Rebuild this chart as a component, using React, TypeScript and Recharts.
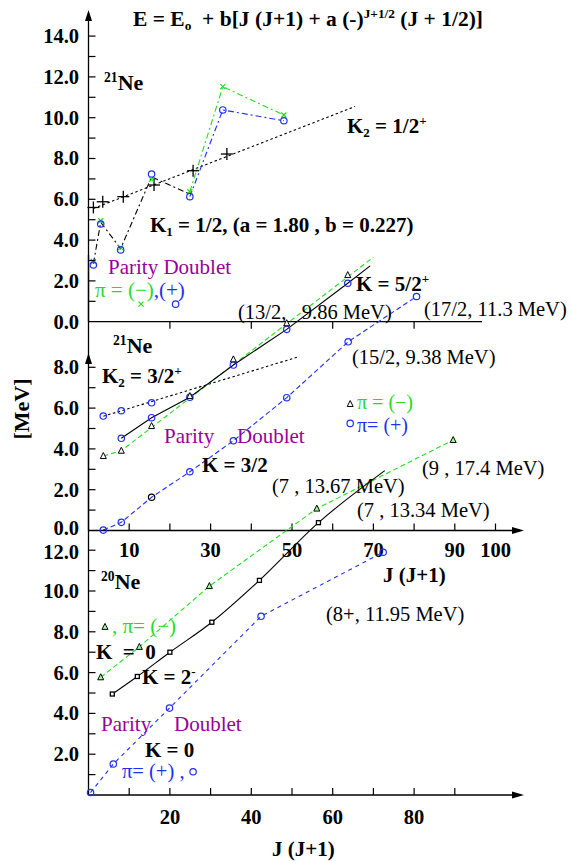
import React from 'react';
import { ComposedChart, Line, Scatter, XAxis, YAxis } from 'recharts';

const SERIF = '"Liberation Serif", "Times New Roman", serif';
const GREEN = '#22dd22';
const BLUE = '#1f2ff0';
const PURPLE = '#990099';

// x = J(J+1), e = energy [MeV]

// top panel: 21Ne, K1 = 1/2 (parity doublet) and K2 = 1/2+
const k1Jx = [1.2, 3.0, 7.9, 15.5, 24.9, 33.0, 48.0];
const k1Minus = [2.95, 4.95, 3.63, 6.98, 6.37, 11.52, 10.13];
const k1Plus = [2.78, 4.79, 3.52, 7.24, 6.13, 10.38, 9.85];
const k1MeanJx = [1.2, 3.0, 7.9, 15.5, 24.9];
const k1Mean = [2.85, 4.87, 3.58, 7.1, 6.25];
const k2Jx = [1.2, 3.5, 8.55, 16.1, 25.7, 34.0];
const k2E = [5.6, 5.88, 6.13, 6.7, 7.4, 8.22];
const k2FitJx = [1.2, 65.5];
const k2FitE = [5.55, 10.55];
const topKeyJx = [12.9, 21.4];
const topKeyE = [0.86, 0.86];

// middle panel: 21Ne, K2 = 3/2+, K = 3/2 doublet, K = 5/2+
const m2Jx = [3.64, 8.06, 15.5];
const m2E = [5.61, 5.87, 6.26];
const m2FitJx = [3.64, 51.2];
const m2FitE = [5.6, 8.49];
const mUpJx = [8.06, 15.5, 24.9, 35.6, 48.7, 63.7, 69.2];
const mUpE = [4.52, 5.53, 6.53, 8.11, 9.86, 12.12, 12.97];
const mMinusJx = [3.64, 8.06, 15.5, 24.9, 35.6, 48.7, 63.7];
const mMinusE = [3.65, 3.91, 5.12, 6.59, 8.39, 10.16, 12.52];
const mMinusFitJx = [3.64, 8.06, 70];
const mMinusFitE = [3.65, 3.91, 13.4];
const mLowJx = [3.64, 8.06, 15.5, 24.9, 35.6, 48.7, 63.8, 80.6];
const mLowE = [0.02, 0.4, 1.63, 2.88, 4.4, 6.51, 9.25, 11.47];
const midKeyJx = [64.3];
const midKeyMinusE = [6.2];
const midKeyPlusE = [5.25];

// bottom panel: 20Ne
const nMinusJx = [3.0, 12.5, 29.7, 56.1, 89.6];
const nMinusE = [5.77, 7.26, 10.24, 14.04, 17.4];
const nK2Jx = [5.85, 12, 20, 30.3, 42, 56.5, 72.8];
const nK2E = [4.95, 5.81, 7.0, 8.47, 10.52, 13.35, 15.9];
const nGsJx = [0.5, 6.1, 19.9, 42.4, 72.4];
const nGsE = [0.12, 1.52, 4.26, 8.76, 11.9];
const botKeyMinusJx = [4.05];
const botKeyMinusE = [8.24];
const botKeyPlusJx = [25.7];
const botKeyPlusE = [1.14];

// ticks
const topYTicks = [0, 1, 2, 3, 4, 5, 6, 7, 8, 9, 10, 11, 12, 13, 14];
const topYLabels = [0, 2, 4, 6, 8, 10, 12, 14];
const topXTicks = [20, 40, 60, 80];
const midYTicks = [0, 1, 2, 3, 4, 5, 6, 7, 8];
const midYLabels = [0, 2, 4, 6, 8];
const midXTicks = [10, 20, 30, 40, 50, 60, 70, 80, 90, 100];
const midXLabels = [10, 30, 50, 70, 90, 100];
const botYTicks = [1, 2, 3, 4, 5, 6, 7, 8, 9, 10, 11, 12];
const botYLabels = [2, 4, 6, 8, 10, 12];
const botXTicks = [10, 20, 30, 40, 50, 60, 70, 80, 90];
const botXLabels = [20, 40, 60, 80];

const pts = (xs: number[], es: number[]) => xs.map((x, i) => ({ x, e: es[i] }));

// layout
const W = 571;
const H = 861;
const AXIS_X = 88.5;
const PX_PER_J = 4.07;
const PX_PER_MEV = 20.4;
const Y_AXIS_W = 40;
const X_AXIS_H = 20;

type Panel = { zeroY: number; topY: number; rightX: number };
const TOP: Panel = { zeroY: 321.7, topY: 14, rightX: 482 };
const MID: Panel = { zeroY: 530.5, topY: 255, rightX: 520 };
const BOT: Panel = { zeroY: 795, topY: 428, rightX: 520 };

// marker shapes
const ring = (color: string) => (p: any) => (
  <circle cx={p.cx} cy={p.cy} r={3.2} fill="none" stroke={color} strokeWidth={1.2} />
);
const cross = (p: any) => (
  <g stroke={GREEN} strokeWidth={1.2}>
    <line x1={p.cx - 2.5} y1={p.cy - 2.5} x2={p.cx + 2.5} y2={p.cy + 2.5} />
    <line x1={p.cx - 2.5} y1={p.cy + 2.5} x2={p.cx + 2.5} y2={p.cy - 2.5} />
  </g>
);
const plus = (p: any) => (
  <g stroke="#000" strokeWidth={1.3}>
    <line x1={p.cx - 6} y1={p.cy} x2={p.cx + 6} y2={p.cy} />
    <line x1={p.cx} y1={p.cy - 6} x2={p.cx} y2={p.cy + 6} />
  </g>
);
const tri = (fill: string) => (p: any) => (
  <polygon
    points={`${p.cx},${p.cy - 3.5} ${p.cx - 3},${p.cy + 2.5} ${p.cx + 3},${p.cy + 2.5}`}
    fill={fill}
    stroke="#000"
    strokeWidth={1}
  />
);
const square = (p: any) => (
  <rect x={p.cx - 2} y={p.cy - 2} width={4} height={4} fill="#fff" stroke="#000" strokeWidth={1.3} />
);

function XTick({ x, y, payload, labels, dir, dy }: any) {
  const v = payload.value;
  return (
    <g>
      <line x1={x} y1={y} x2={x} y2={y + dir * 7} stroke="#000" strokeWidth={1.2} />
      {labels.includes(v) && (
        <text x={x} y={y + dy} dy="0.34em" textAnchor="middle" fontFamily={SERIF} fontWeight={700} fontSize={20.5} fill="#000">
          {v}
        </text>
      )}
    </g>
  );
}

// shift: nudges one label so neighbouring panels' labels don't collide
function YTick({ x, y, payload, labels, shift }: any) {
  const v = payload.value;
  const off = shift && shift[0] === v ? shift[1] : 0;
  return (
    <g>
      {v > 0 && <line x1={x} y1={y} x2={x + 7} y2={y} stroke="#000" strokeWidth={1.2} />}
      {labels.includes(v) && (
        <text x={x - 9.5} y={y + off} dy="0.34em" textAnchor="end" fontFamily={SERIF} fontWeight={700} fontSize={20.5} fill="#000">
          {v.toFixed(1)}
        </text>
      )}
    </g>
  );
}

function PanelChart({ panel, yTicks, yLabels, yShift, xTicks, xLabels, xDir, xDy, children }: any) {
  const margin = {
    left: AXIS_X - Y_AXIS_W,
    top: panel.topY,
    right: W - panel.rightX,
    bottom: H - panel.zeroY - X_AXIS_H,
  };
  const xMax = (panel.rightX - AXIS_X) / PX_PER_J;
  const yMax = (panel.zeroY - panel.topY) / PX_PER_MEV;
  return (
    <div style={{ position: 'absolute', left: 0, top: 0 }}>
      <ComposedChart width={W} height={H} margin={margin}>
        <XAxis
          type="number"
          dataKey="x"
          domain={[0, xMax]}
          ticks={xTicks}
          interval={0}
          height={X_AXIS_H}
          tickSize={0}
          tickMargin={0}
          tickLine={false}
          axisLine={{ stroke: '#000', strokeWidth: 1.3 }}
          tick={(p: any) => <XTick {...p} labels={xLabels} dir={xDir} dy={xDy} />}
        />
        <YAxis
          type="number"
          dataKey="e"
          domain={[0, yMax]}
          ticks={yTicks}
          interval={0}
          width={Y_AXIS_W}
          tickSize={0}
          tickMargin={0}
          tickLine={false}
          axisLine={{ stroke: '#000', strokeWidth: 1.3 }}
          tick={(p: any) => <YTick {...p} labels={yLabels} shift={yShift} />}
        />
        {children}
      </ComposedChart>
    </div>
  );
}

const line = (key: string, xs: number[], es: number[], stroke: string, dash?: string, type: any = 'linear') => (
  <Line
    key={key}
    data={pts(xs, es)}
    dataKey="e"
    type={type}
    stroke={stroke}
    strokeWidth={1.1}
    strokeDasharray={dash}
    dot={false}
    activeDot={false}
    isAnimationActive={false}
  />
);
const marks = (key: string, xs: number[], es: number[], shape: any) => (
  <Scatter key={key} data={pts(xs, es)} dataKey="e" shape={shape} isAnimationActive={false} />
);

function Note({ x, y, size = 21, bold = false, color = '#000', children }: any) {
  return (
    <div
      style={{
        position: 'absolute',
        left: x,
        top: y,
        transform: 'translateY(-50%)',
        fontFamily: SERIF,
        fontSize: size,
        fontWeight: bold ? 700 : 400,
        color,
        whiteSpace: 'pre',
        lineHeight: 1,
      }}
    >
      {children}
    </div>
  );
}
const Sup = ({ children }: any) => (
  <span style={{ fontSize: '0.62em', position: 'relative', top: '-0.6em' }}>{children}</span>
);
const Sub = ({ children }: any) => (
  <span style={{ fontSize: '0.62em', position: 'relative', top: '0.3em' }}>{children}</span>
);

export default function App() {
  return (
    <div style={{ position: 'absolute', left: 0, top: 0, width: W, height: H, background: '#fff', overflow: 'hidden' }}>
      <PanelChart panel={TOP} yTicks={topYTicks} yLabels={topYLabels} xTicks={topXTicks} xLabels={[]} xDir={1} xDy={0}>
        {line('k2fit', k2FitJx, k2FitE, '#000', '2.5 2.5')}
        {line('k1mean', k1MeanJx, k1Mean, '#000', '6 3 2 3')}
        {line('k1minus', k1Jx.slice(4), k1Minus.slice(4), GREEN, '6 3 2 3')}
        {line('k1plus', k1Jx.slice(4), k1Plus.slice(4), BLUE, '6 3 2 3')}
        {marks('k2', k2Jx, k2E, plus)}
        {marks('k1m', k1Jx, k1Minus, cross)}
        {marks('k1p', k1Jx, k1Plus, ring(BLUE))}
        {marks('keym', topKeyJx.slice(0, 1), topKeyE.slice(0, 1), cross)}
        {marks('keyp', topKeyJx.slice(1), topKeyE.slice(1), ring(BLUE))}
      </PanelChart>

      <PanelChart panel={MID} yTicks={midYTicks} yLabels={midYLabels} yShift={[0, -2.5]} xTicks={midXTicks} xLabels={midXLabels} xDir={-1} xDy={19.5}>
        {line('m2fit', m2FitJx, m2FitE, '#000', '2.5 2.5')}
        {line('mminus', mMinusFitJx, mMinusFitE, GREEN, '5 3')}
        {line('mup', mUpJx, mUpE, '#000')}
        {line('mlow', mLowJx, mLowE, BLUE, '5 3')}
        {marks('m2', m2Jx, m2E, ring(BLUE))}
        {marks('mupm', mUpJx.slice(0, 6), mUpE.slice(0, 6), ring(BLUE))}
        {marks('mminusm', mMinusJx, mMinusE, tri('#fff'))}
        {marks('mlowb', mLowJx.filter((_, i) => i !== 2), mLowE.filter((_, i) => i !== 2), ring(BLUE))}
        {marks('mlowk', mLowJx.slice(2, 3), mLowE.slice(2, 3), ring('#000'))}
        {marks('mkeym', midKeyJx, midKeyMinusE, tri('#fff'))}
        {marks('mkeyp', midKeyJx, midKeyPlusE, ring(BLUE))}
      </PanelChart>

      <PanelChart panel={BOT} yTicks={botYTicks} yLabels={botYLabels} yShift={[12, 1.5]} xTicks={botXTicks} xLabels={botXLabels} xDir={-1} xDy={22}>
        {line('nminus', nMinusJx, nMinusE, GREEN, '5 3')}
        {line('nk2', nK2Jx, nK2E, '#000', undefined, 'monotone')}
        {line('ngs', nGsJx, nGsE, BLUE, '4 4')}
        {marks('nminusm', nMinusJx, nMinusE, tri('#9f9'))}
        {marks('nk2m', nK2Jx.slice(0, 6), nK2E.slice(0, 6), square)}
        {marks('ngsm', nGsJx, nGsE, ring(BLUE))}
        {marks('nkeym', botKeyMinusJx, botKeyMinusE, tri('#9f9'))}
        {marks('nkeyp', botKeyPlusJx, botKeyPlusE, ring(BLUE))}
      </PanelChart>

      <svg width={W} height={H} style={{ position: 'absolute', left: 0, top: 0, pointerEvents: 'none' }}>
        <polygon points={`${AXIS_X},10 ${AXIS_X - 3.5},21 ${AXIS_X + 3.5},21`} fill="#000" />
        <polygon points={`${AXIS_X},353 ${AXIS_X - 3.5},364 ${AXIS_X + 3.5},364`} fill="#000" />
        <polygon points={`524,${MID.zeroY} 512,${MID.zeroY - 3.5} 512,${MID.zeroY + 3.5}`} fill="#000" />
        <polygon points={`524,${BOT.zeroY} 512,${BOT.zeroY - 3.5} 512,${BOT.zeroY + 3.5}`} fill="#000" />
      </svg>

      {/* top panel text */}
      <Note x={133} y={20} bold size={21.5}>
        E = E<Sub>o</Sub>  + b[J (J+1) + a (-)<Sup>J+1/2</Sup> (J + 1/2)]
      </Note>
      <Note x={104} y={83} bold size={22}><Sup>21</Sup>Ne</Note>
      <Note x={347} y={126} bold>K<Sub>2</Sub> = 1/2<Sup>+</Sup></Note>
      <Note x={150} y={225} bold>K<Sub>1</Sub> = 1/2, (a = 1.80 , b = 0.227)</Note>
      <Note x={108} y={267} size={21} color={PURPLE}>Parity Doublet</Note>
      <Note x={95} y={290} size={21}>
        <span style={{ color: GREEN }}>π = (−)</span><span style={{ color: BLUE }}>,(+)</span>
      </Note>
      <Note x={356} y={284} bold>K = 5/2<Sup>+</Sup></Note>
      <Note x={238} y={312} size={20.5}>(13/2,   9.86 MeV)</Note>
      <Note x={424} y={309} size={20.5}>(17/2, 11.3 MeV)</Note>

      {/* middle panel text */}
      <Note x={113} y={346} bold size={22}><Sup>21</Sup>Ne</Note>
      <Note x={102} y={376} bold>K<Sub>2</Sub> = 3/2<Sup>+</Sup></Note>
      <Note x={164} y={436} size={21} color={PURPLE}>Parity</Note>
      <Note x={237} y={436} size={21} color={PURPLE}>Doublet</Note>
      <Note x={202} y={465} bold>K = 3/2</Note>
      <Note x={352} y={357} size={20.5}>(15/2, 9.38 MeV)</Note>
      <Note x={357} y={402} size={20} color={GREEN}>π = (−)</Note>
      <Note x={357} y={425} size={20} color={BLUE}>π= (+)</Note>
      <Note x={422} y={468} size={20.5}>(9 , 17.4 MeV)</Note>
      <Note x={272} y={486} size={20.5}>(7 , 13.67 MeV)</Note>
      <Note x={357} y={510} size={20.5}>(7 , 13.34 MeV)</Note>
      <Note x={383} y={575} bold>J (J+1)</Note>

      {/* bottom panel text */}
      <Note x={101} y={582} bold size={22}><Sup>20</Sup>Ne</Note>
      <Note x={112} y={626} size={21} color={GREEN}>, π= (−)</Note>
      <Note x={96} y={652} bold>K  =  0</Note>
      <Note x={142} y={677} bold>K = 2<Sup>-</Sup></Note>
      <Note x={326} y={614} size={20.5}>(8+, 11.95 MeV)</Note>
      <Note x={101} y={724} size={21} color={PURPLE}>Parity</Note>
      <Note x={174} y={724} size={21} color={PURPLE}>Doublet</Note>
      <Note x={145} y={750} bold>K = 0</Note>
      <Note x={122} y={771} size={20.5} color={BLUE}>π= (+) ,</Note>
      <Note x={272} y={849} bold>J (J+1)</Note>
      <div
        style={{
          position: 'absolute',
          left: 22,
          top: 409,
          transform: 'translate(-50%, -50%) rotate(-90deg)',
          fontFamily: SERIF,
          fontSize: 22,
          fontWeight: 700,
          whiteSpace: 'pre',
          lineHeight: 1,
        }}
      >
        [MeV]
      </div>
    </div>
  );
}
